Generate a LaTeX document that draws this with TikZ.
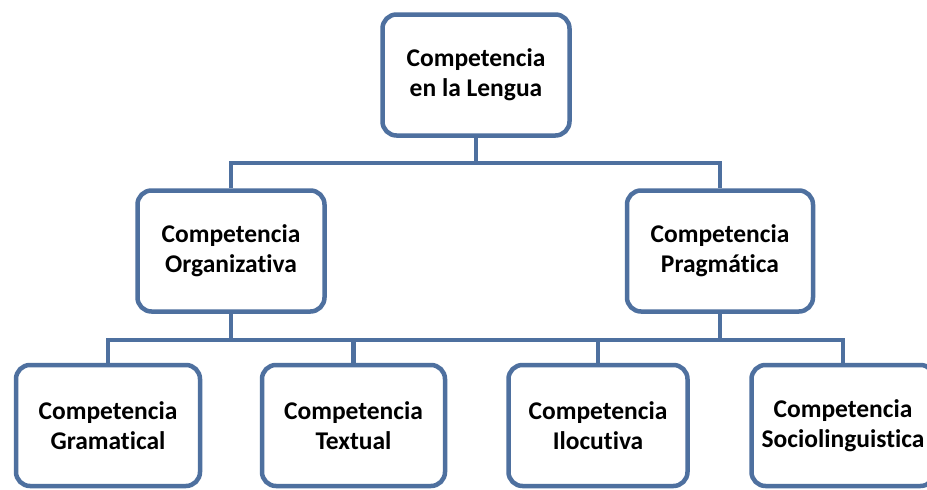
\documentclass[tikz,border=0pt]{standalone}
\usepackage{fontspec}
\setmainfont{Carlito}[Ligatures=NoCommon]
\definecolor{linecol}{HTML}{4E709F}
\begin{document}
\begin{tikzpicture}[x=1pt,y=-1pt,
  box/.style={draw=linecol, line width=4.5pt, rounded corners=14pt, fill=white,
    align=center, inner sep=0pt, font=\bfseries\fontsize{25.5}{30}\selectfont, text=black},
  conn/.style={draw=linecol, line width=4.5pt}]
\useasboundingbox (0,0) rectangle (927,490);
\clip (0,0) rectangle (927,490);
\fill[white] (0,0) rectangle (927,490);
\coordinate (bus1) at (0,163);
\coordinate (bus2) at (0,340);
\node[box, minimum width=187pt, minimum height=121pt] (top) at (476,75) {Competencia\\en la Lengua};
\node[box, minimum width=187pt, minimum height=121pt] (org) at (231,251) {Competencia\\Organizativa};
\node[box, minimum width=186pt, minimum height=121pt] (prag) at (720,251) {Competencia\\Pragmática};
\node[box, minimum width=184pt, minimum height=121pt] (gram) at (108,425.5) {Competencia\\Gramatical};
\node[box, minimum width=183pt, minimum height=121pt] (text) at (353.5,425.5) {Competencia\\Textual};
\node[box, minimum width=179pt, minimum height=121pt] (iloc) at (598,425.5) {Competencia\\Ilocutiva};
\node[box, minimum width=183pt, minimum height=121pt] (socio) at (843,425.5) {Competencia\\Sociolinguistica};
\path[conn] (top.south) -- (top.south |- bus1);
\path[conn] (org.north) -- (org.north |- bus1) -| (prag.north);
\path[conn] (org.south) -- (org.south |- bus2);
\path[conn] (prag.south) -- (prag.south |- bus2);
\path[conn] (gram.north) -- (gram.north |- bus2) -| (socio.north);
\path[conn] (text.north) -- (text.north |- bus2);
\path[conn] (iloc.north) -- (iloc.north |- bus2);
\end{tikzpicture}
\end{document}
